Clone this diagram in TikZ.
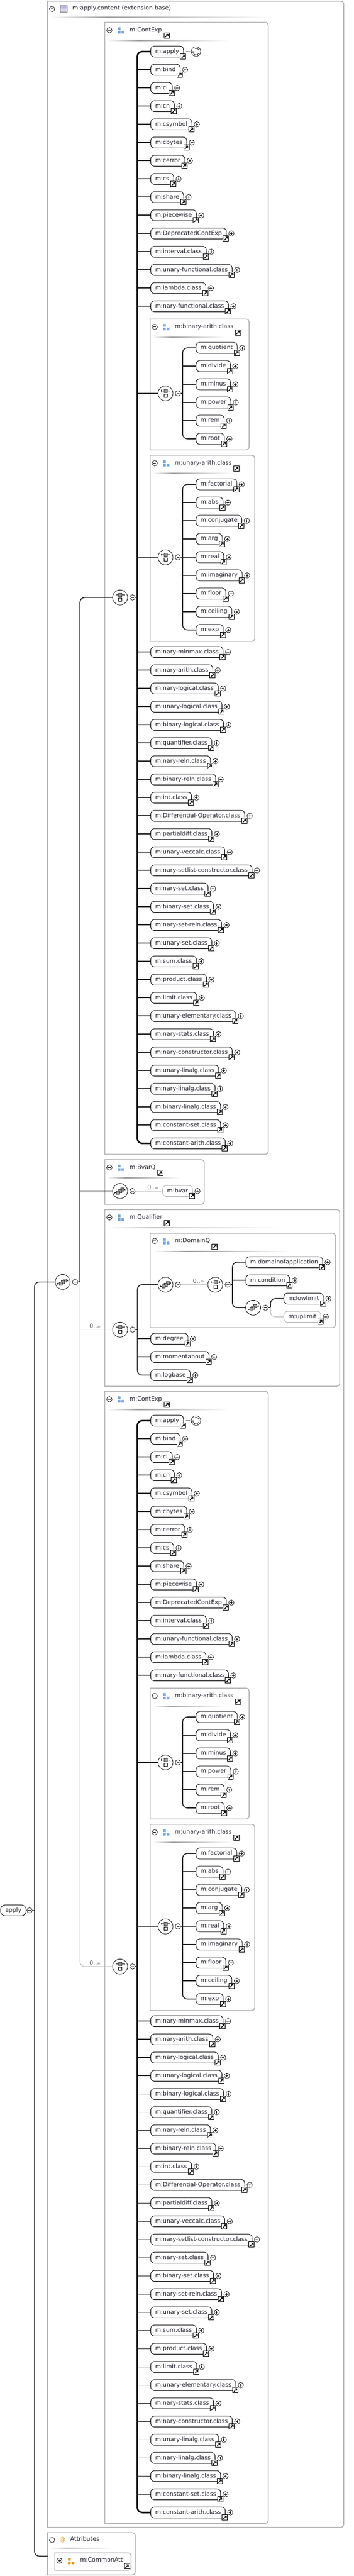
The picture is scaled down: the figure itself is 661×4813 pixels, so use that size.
\documentclass[tikz,border=0pt]{standalone}
\usepackage{fontspec}
\setmainfont{DejaVu Sans}[Ligatures=NoCommon]

\definecolor{boxgray}{HTML}{B0B0B0}
\definecolor{iconblue}{HTML}{7AA9DC}
\definecolor{iconorange}{HTML}{E8961E}
\definecolor{iconpurple}{HTML}{B7A4D8}
\definecolor{inkdark}{HTML}{26232E}

\pgfdeclarehorizontalshading{titlefade}{100bp}{color(0bp)=(white); color(25bp)=(white); color(38bp)=(black!38); color(75bp)=(white); color(100bp)=(white)}

\tikzset{
    label font/.style={font=\fontsize{11}{13}\selectfont, text=inkdark},
    elem/.style={draw=black, fill=white, line width=.9pt, rounded corners=7pt, anchor=west, label font,
        minimum height=20.5pt, inner xsep=8.3pt, inner ysep=0pt, text height=8pt, text depth=2.5pt},
    optelem/.style={elem, draw=boxgray},
    rootnode/.style={elem, rounded corners=9pt, inner xsep=8.8pt},
    linkbox/.style={draw=black, fill=white, line width=1pt, minimum size=10pt, inner sep=0pt,
        path picture={
            \fill[black] (path picture bounding box.center) ++(3.4pt,3.4pt) -- ++(-4.6pt,0pt) -- ++(4.6pt,-4.6pt) -- cycle;
            \draw[black, line width=1.4pt] (path picture bounding box.center) ++(-3pt,-3pt) -- ++(4pt,4pt);
        }},
    btn/.style={circle, draw=black, fill=white, line width=.7pt, minimum size=10pt, inner sep=0pt},
    minusbtn/.style={btn,
        path picture={\draw[line width=.8pt] (path picture bounding box.center) ++(-2.5pt,0pt) -- ++(5pt,0pt);}},
    plusbtn/.style={btn,
        path picture={\draw[line width=.8pt] (path picture bounding box.center) ++(-2.5pt,0pt) -- ++(5pt,0pt)
            (path picture bounding box.center) ++(0pt,-2.5pt) -- ++(0pt,5pt);}},
    recur/.style={btn, minimum size=18pt,
        path picture={\draw[line width=.7pt] (path picture bounding box.center) ++(110:6pt) arc[start angle=110, end angle=-190, radius=6pt];
            \fill (path picture bounding box.center) ++(-2.6pt,2pt) circle (1.4pt);}},
    recdots/.style={line width=1.4pt, dash pattern=on 1.4pt off 1.6pt},
    compo/.style={circle, draw=black, fill=white, line width=.8pt, minimum size=28pt, inner sep=0pt},
    boxline/.style={draw=boxgray, line width=1.5pt},
    wire/.style={draw=black!85, line width=1.7pt},
    optwire/.style={draw=boxgray, line width=1pt},
    rail/.style={wire, rounded corners=9pt},
    heavyrail/.style={rail, draw=black, line width=2.8pt},
    thinrail/.style={rail, line width=1.5pt},
    optrail/.style={optwire, rounded corners=9pt},
    title/.style={anchor=west, inner sep=0pt, label font, text height=8pt, text depth=2.5pt},
    mult/.style={inner sep=0pt, label font, text=black!65},
    titlebar/.style={shading=titlefade, draw=none},
    pics/threesq/.style={code={
        \fill[#1] (0,0) rectangle (5,5) (0,6.7) rectangle (5,11.7) (6.7,6.7) rectangle (11.7,11.7);
    }},
    pics/choicesym/.style={code={
        \draw[black, line width=.9pt] (-8,-5) -- (8,-5) (-8,-6.6) -- (-8,-3.4) (8,-6.6) -- (8,-3.4);
        \filldraw[fill=black!40, draw=black!70, line width=.5pt] (-3,-8) rectangle (3,-2);
        \draw[black, fill=white, line width=.8pt] (-3,1) rectangle (3,7);
    }},
    pics/seqsym/.style={code={
        \draw[black, line width=.9pt] (-9.5,3.2) -- (-6,3.2) (6,-3.2) -- (9.5,-3.2) (-9.5,1.8) -- (-9.5,4.6) (9.5,-4.6) -- (9.5,-1.8);
        \filldraw[fill=black!40, draw=black!75, line width=.6pt] (.8,-6) rectangle (6.8,0);
        \filldraw[fill=black!40, draw=black!75, line width=.6pt] (-3,-3) rectangle (3,3);
        \filldraw[fill=black!40, draw=black!75, line width=.6pt] (-6.8,0) rectangle (-.8,6);
    }},
}

\newcommand{\elemcore}[5][elem]{
    \node[#1, xshift=24.5pt] (#2) at (#3 |- 0,#4) {#5};
    \node[linkbox] (#2-link) at ([xshift=-1.2pt, yshift=-9.3pt]#2.east) {};
}
\newcommand{\elembare}[5][elem]{
    \elemcore[#1]{#2}{#3}{#4}{#5}
    \node[plusbtn] (#2-plus) at ([xshift=8.8pt]#2.east) {};
}
\newcommand{\elem}[4]{
    \elembare{#1}{#2}{#3}{#4}
    \draw[wire] (#2 |- #1.west) -- (#1.west);
}
\newcommand{\optelem}[4]{
    \elembare[optelem]{#1}{#2}{#3}{#4}
}
\newcommand{\compo}[3]{
    \node[compo] (#2) at (#3) {};
    \pic at (#2.center) {#1};
    \node[minusbtn] (#2-minus) at ([xshift=23.2pt]#2.center) {};
}
\newcommand{\groupframe}[5]{
    \draw[boxline] (#2,#3) -- ({#4-5},#3) arc[start angle=90, end angle=0, radius=5pt]
        -- (#4,{#5-5}) arc[start angle=0, end angle=-90, radius=5pt] -- (#2,#5) -- cycle;
    \coordinate (#1) at (#2,#3);
}
\newcommand{\groupbox}[7]{
    \groupframe{#1}{#2}{#3}{#4}{#5}
    \node[minusbtn] (#1-minus) at ([shift={(8.6pt,-14.7pt)}]#1) {};
    \pic at ([shift={(24.3pt,-9.3pt)}]#1) {threesq=iconblue};
    \node[title] (#1-title) at ([shift={(46pt,-14.7pt)}]#1) {#7};
    \node[linkbox] (#1-link) at ([xshift=8.5pt, yshift=-10.4pt]#1-title.east) {};
    \shade[titlebar] ([shift={(4.5pt,-33pt)}]#1) rectangle ++(#6pt,-1.6pt);
}

\begin{document}
\begin{tikzpicture}[x=1pt, y=-1pt]
    \useasboundingbox (0,0) rectangle (661,4813);

    \groupframe{content}{88.8}{2}{641.8}{4722}
    \node[minusbtn] (content-minus) at (97.2,16.7) {};
    \draw[draw=black!60, top color=iconpurple, bottom color=iconpurple!15, line width=.7pt] (112.4,10.3) rectangle (125,22.7);
    \node[title] (content-title) at (135,16) {m:apply.content (extension base)};
    \shade[titlebar] (92.5,31.5) rectangle ++(413pt,-1.6pt);

    \groupbox{contexp}{195.7}{41.7}{500.8}{2156.7}{227}{m:ContExp}
    \groupbox{binarith}{280.3}{596}{465}{840.7}{137}{m:binary-arith.class}
    \groupbox{unarith}{280.3}{850.7}{475.6}{1198.3}{149}{m:unary-arith.class}
    \groupbox{bvarq}{195.7}{2166.7}{381.3}{2250}{137}{m:BvarQ}
    \groupbox{qualifier}{195.7}{2260}{634.3}{2590}{324}{m:Qualifier}
    \groupbox{domainq}{280.3}{2304}{626.3}{2480.7}{259}{m:DomainQ}
    \groupbox{contexp'}{195.7}{2599.7}{500.8}{4714.7}{227}{m:ContExp}
    \groupbox{binarith'}{280.3}{3154}{465}{3398.7}{137}{m:binary-arith.class}
    \groupbox{unarith'}{280.3}{3408.7}{475.6}{3756.3}{149}{m:unary-arith.class}

    \groupframe{attributes}{88.8}{4732}{252.5}{4811}
    \node[minusbtn] (attributes-minus) at (97.2,4745.7) {};
    \node[label font, text=iconorange, inner sep=0pt] (attributes-icon) at (116.6,4745.7) {@};
    \node[title] (attributes-title) at (131,4745) {Attributes};
    \shade[titlebar] (92.5,4760) rectangle ++(123pt,-1.6pt);

    \groupframe{commonatt}{102.3}{4769.7}{244.5}{4802.3}
    \node[plusbtn] (commonatt-plus) at (111,4784.3) {};
    \pic at (126.9,4779.3) {threesq=iconorange};
    \node[title] (commonatt-title) at (149.4,4784) {m:CommonAtt};
    \node[linkbox] (commonatt-link) at (237,4794.7) {};

    \coordinate (mainrail) at (64.3,3569.3);
    \coordinate (attrjoin) at (88.8,4775.7);
    \coordinate (seqrail) at (149.3,2395.3);
    \coordinate (cerail) at (256.5,1116.3);
    \coordinate (binrail) at (341,735);
    \coordinate (unrail) at (341,1041.3);
    \coordinate (bvarrail) at (278.7,2225.3);
    \coordinate (qualrail) at (256.5,2484.3);
    \coordinate (domrail) at (434,2400.3);
    \coordinate (lowrail) at (505,2443.3);
    \coordinate (cerail') at (256.5,3674.3);
    \coordinate (binrail') at (341,3293);
    \coordinate (unrail') at (341,3599.3);

    \node[rootnode] (root) at (.5,3569.3) {apply};
    \node[minusbtn] (root-minus) at (55.3,3569.3) {};
    \draw[wire, line width=1.5pt] (root-minus) -- (mainrail);

    \compo{seqsym}{mainseq}{117,2395.3}
    \compo{choicesym}{cechoice}{224.2,1116.3}
    \compo{seqsym}{bvarseq}{224.2,2225.3}
    \compo{choicesym}{qualchoice}{224.2,2484.3}
    \compo{choicesym}{cechoice'}{224.2,3674.3}
    \draw[wire] (mainseq-minus) -- (seqrail);

    \elemcore{apply}{cerail}{96.3}{m:apply}
    \node[recur] (applyrec) at ([xshift=22.8pt]apply.east) {};
    \draw[recdots] ([xshift=4pt]apply.east) -- (applyrec.west);
    \elem{bind}{cerail}{130.3}{m:bind}
    \elem{ci}{cerail}{164.3}{m:ci}
    \elem{cn}{cerail}{198.3}{m:cn}
    \elem{csymbol}{cerail}{232.3}{m:csymbol}
    \elem{cbytes}{cerail}{266.3}{m:cbytes}
    \elem{cerror}{cerail}{300.3}{m:cerror}
    \elem{cs}{cerail}{334.3}{m:cs}
    \elem{share}{cerail}{368.3}{m:share}
    \elem{piecewise}{cerail}{402.3}{m:piecewise}
    \elem{deprecated}{cerail}{436.3}{m:DeprecatedContExp}
    \elem{interval}{cerail}{470.3}{m:interval.class}
    \elem{unaryfunc}{cerail}{504.3}{m:unary-functional.class}
    \elem{lambda}{cerail}{538.3}{m:lambda.class}
    \elem{naryfunc}{cerail}{572.3}{m:nary-functional.class}

    \compo{choicesym}{binchoice}{309,735}
    \draw[wire] (cerail |- binchoice) -- (binchoice);
    \draw[wire] (binchoice-minus) -- (binrail);
    \elembare{quotient}{binrail}{650}{m:quotient}
    \elem{divide}{binrail}{684}{m:divide}
    \elem{minus}{binrail}{718}{m:minus}
    \elem{power}{binrail}{752}{m:power}
    \elem{rem}{binrail}{786}{m:rem}
    \elembare{rootel}{binrail}{820}{m:root}
    \draw[rail] (quotient.west) -| (binrail) |- (rootel.west);

    \compo{choicesym}{unchoice}{309,1041.3}
    \draw[wire] (cerail |- unchoice) -- (unchoice);
    \draw[wire] (unchoice-minus) -- (unrail);
    \elembare{factorial}{unrail}{905}{m:factorial}
    \elem{abs}{unrail}{939}{m:abs}
    \elem{conjugate}{unrail}{973}{m:conjugate}
    \elem{arg}{unrail}{1007}{m:arg}
    \elem{real}{unrail}{1041}{m:real}
    \elem{imaginary}{unrail}{1075}{m:imaginary}
    \elem{floor}{unrail}{1109}{m:floor}
    \elem{ceiling}{unrail}{1143}{m:ceiling}
    \elembare{exp}{unrail}{1177}{m:exp}
    \draw[rail] (factorial.west) -| (unrail) |- (exp.west);

    \elem{naryminmax}{cerail}{1218.3}{m:nary-minmax.class}
    \elem{naryarith}{cerail}{1252.3}{m:nary-arith.class}
    \elem{narylogical}{cerail}{1286.3}{m:nary-logical.class}
    \elem{unarylogical}{cerail}{1320.3}{m:unary-logical.class}
    \elem{binarylogical}{cerail}{1354.3}{m:binary-logical.class}
    \elem{quantifier}{cerail}{1388.3}{m:quantifier.class}
    \elem{naryreln}{cerail}{1422.3}{m:nary-reln.class}
    \elem{binaryreln}{cerail}{1456.3}{m:binary-reln.class}
    \elem{intcl}{cerail}{1490.3}{m:int.class}
    \elem{diffop}{cerail}{1524.3}{m:Differential-Operator.class}
    \elem{partialdiff}{cerail}{1558.3}{m:partialdiff.class}
    \elem{unaryveccalc}{cerail}{1592.3}{m:unary-veccalc.class}
    \elem{setlist}{cerail}{1626.3}{m:nary-setlist-constructor.class}
    \elem{naryset}{cerail}{1660.3}{m:nary-set.class}
    \elem{binaryset}{cerail}{1694.3}{m:binary-set.class}
    \elem{narysetreln}{cerail}{1728.3}{m:nary-set-reln.class}
    \elem{unaryset}{cerail}{1762.3}{m:unary-set.class}
    \elem{sumcl}{cerail}{1796.3}{m:sum.class}
    \elem{product}{cerail}{1830.3}{m:product.class}
    \elem{limit}{cerail}{1864.3}{m:limit.class}
    \elem{unaryelem}{cerail}{1898.3}{m:unary-elementary.class}
    \elem{narystats}{cerail}{1932.3}{m:nary-stats.class}
    \elem{naryconstr}{cerail}{1966.3}{m:nary-constructor.class}
    \elem{unarylinalg}{cerail}{2000.3}{m:unary-linalg.class}
    \elem{narylinalg}{cerail}{2034.3}{m:nary-linalg.class}
    \elem{binarylinalg}{cerail}{2068.3}{m:binary-linalg.class}
    \elem{constset}{cerail}{2102.3}{m:constant-set.class}
    \elembare{constarith}{cerail}{2136.3}{m:constant-arith.class}
    \draw[heavyrail] (apply.west) -| (cerail) |- (constarith.west);
    \draw[wire] (cechoice-minus) -- (cerail);

    \optelem{bvar}{bvarrail}{2225.3}{m:bvar}
    \draw[optwire] (bvarseq-minus) -- (bvar);
    \node[mult] (bvarmult) at (285.5,2218) {0..{\fontsize{8}{8}\selectfont ∞}};
    \draw[wire] (seqrail |- bvarseq) -- (bvarseq);

    \compo{seqsym}{domseq}{309,2400.3}
    \compo{choicesym}{domchoice}{402,2400.3}
    \draw[optwire] (domseq-minus) -- (domchoice);
    \node[mult] (dommult) at (370.5,2393) {0..{\fontsize{8}{8}\selectfont ∞}};
    \draw[wire] (domchoice-minus) -- (domrail);
    \elembare{domofapp}{domrail}{2358.3}{m:domainofapplication}
    \elem{condition}{domrail}{2392.3}{m:condition}
    \compo{seqsym}{lowseq}{472.6,2443.3}
    \draw[rail] (domofapp.west) -| (domrail) |- (lowseq);
    \draw[wire] (lowseq-minus) -- (lowrail);
    \elembare{lowlimit}{lowrail}{2426.3}{m:lowlimit}
    \optelem{uplimit}{lowrail}{2460.3}{m:uplimit}
    \draw[rail] (lowlimit.west) -| (lowrail);
    \draw[optrail] (lowrail) |- (uplimit.west);

    \elem{degree}{qualrail}{2501.3}{m:degree}
    \elem{momentabout}{qualrail}{2535.3}{m:momentabout}
    \elembare{logbase}{qualrail}{2569.3}{m:logbase}
    \draw[rail] (domseq.west) -| (qualrail) |- (logbase.west);
    \draw[wire] (qualchoice-minus) -- (qualrail);

    \elemcore{apply'}{cerail'}{2654.3}{m:apply}
    \node[recur] (applyrec') at ([xshift=22.8pt]apply'.east) {};
    \draw[recdots] ([xshift=4pt]apply'.east) -- (applyrec'.west);
    \elem{bind'}{cerail'}{2688.3}{m:bind}
    \elem{ci'}{cerail'}{2722.3}{m:ci}
    \elem{cn'}{cerail'}{2756.3}{m:cn}
    \elem{csymbol'}{cerail'}{2790.3}{m:csymbol}
    \elem{cbytes'}{cerail'}{2824.3}{m:cbytes}
    \elem{cerror'}{cerail'}{2858.3}{m:cerror}
    \elem{cs'}{cerail'}{2892.3}{m:cs}
    \elem{share'}{cerail'}{2926.3}{m:share}
    \elem{piecewise'}{cerail'}{2960.3}{m:piecewise}
    \elem{deprecated'}{cerail'}{2994.3}{m:DeprecatedContExp}
    \elem{interval'}{cerail'}{3028.3}{m:interval.class}
    \elem{unaryfunc'}{cerail'}{3062.3}{m:unary-functional.class}
    \elem{lambda'}{cerail'}{3096.3}{m:lambda.class}
    \elem{naryfunc'}{cerail'}{3130.3}{m:nary-functional.class}

    \compo{choicesym}{binchoice'}{309,3293}
    \draw[wire] (cerail' |- binchoice') -- (binchoice');
    \draw[wire] (binchoice'-minus) -- (binrail');
    \elembare{quotient'}{binrail'}{3208}{m:quotient}
    \elem{divide'}{binrail'}{3242}{m:divide}
    \elem{minus'}{binrail'}{3276}{m:minus}
    \elem{power'}{binrail'}{3310}{m:power}
    \elem{rem'}{binrail'}{3344}{m:rem}
    \elembare{rootel'}{binrail'}{3378}{m:root}
    \draw[rail] (quotient'.west) -| (binrail') |- (rootel'.west);

    \compo{choicesym}{unchoice'}{309,3599.3}
    \draw[wire] (cerail' |- unchoice') -- (unchoice');
    \draw[wire] (unchoice'-minus) -- (unrail');
    \elembare{factorial'}{unrail'}{3463}{m:factorial}
    \elem{abs'}{unrail'}{3497}{m:abs}
    \elem{conjugate'}{unrail'}{3531}{m:conjugate}
    \elem{arg'}{unrail'}{3565}{m:arg}
    \elem{real'}{unrail'}{3599}{m:real}
    \elem{imaginary'}{unrail'}{3633}{m:imaginary}
    \elem{floor'}{unrail'}{3667}{m:floor}
    \elem{ceiling'}{unrail'}{3701}{m:ceiling}
    \elembare{exp'}{unrail'}{3735}{m:exp}
    \draw[rail] (factorial'.west) -| (unrail') |- (exp'.west);

    \elem{naryminmax'}{cerail'}{3776.3}{m:nary-minmax.class}
    \elem{naryarith'}{cerail'}{3810.3}{m:nary-arith.class}
    \elem{narylogical'}{cerail'}{3844.3}{m:nary-logical.class}
    \elem{unarylogical'}{cerail'}{3878.3}{m:unary-logical.class}
    \elem{binarylogical'}{cerail'}{3912.3}{m:binary-logical.class}
    \elem{quantifier'}{cerail'}{3946.3}{m:quantifier.class}
    \elem{naryreln'}{cerail'}{3980.3}{m:nary-reln.class}
    \elem{binaryreln'}{cerail'}{4014.3}{m:binary-reln.class}
    \elem{intcl'}{cerail'}{4048.3}{m:int.class}
    \elem{diffop'}{cerail'}{4082.3}{m:Differential-Operator.class}
    \elem{partialdiff'}{cerail'}{4116.3}{m:partialdiff.class}
    \elem{unaryveccalc'}{cerail'}{4150.3}{m:unary-veccalc.class}
    \elem{setlist'}{cerail'}{4184.3}{m:nary-setlist-constructor.class}
    \elem{naryset'}{cerail'}{4218.3}{m:nary-set.class}
    \elem{binaryset'}{cerail'}{4252.3}{m:binary-set.class}
    \elem{narysetreln'}{cerail'}{4286.3}{m:nary-set-reln.class}
    \elem{unaryset'}{cerail'}{4320.3}{m:unary-set.class}
    \elem{sumcl'}{cerail'}{4354.3}{m:sum.class}
    \elem{product'}{cerail'}{4388.3}{m:product.class}
    \elem{limit'}{cerail'}{4422.3}{m:limit.class}
    \elem{unaryelem'}{cerail'}{4456.3}{m:unary-elementary.class}
    \elem{narystats'}{cerail'}{4490.3}{m:nary-stats.class}
    \elem{naryconstr'}{cerail'}{4524.3}{m:nary-constructor.class}
    \elem{unarylinalg'}{cerail'}{4558.3}{m:unary-linalg.class}
    \elem{narylinalg'}{cerail'}{4592.3}{m:nary-linalg.class}
    \elem{binarylinalg'}{cerail'}{4626.3}{m:binary-linalg.class}
    \elem{constset'}{cerail'}{4660.3}{m:constant-set.class}
    \elembare{constarith'}{cerail'}{4694.3}{m:constant-arith.class}
    \draw[heavyrail] (apply'.west) -| (cerail') |- (constarith'.west);
    \draw[wire] (cechoice'-minus) -- (cerail');

    \draw[rail] (cechoice.west) -| (seqrail);
    \draw[optrail] (seqrail) |- (cechoice'.west);
    \draw[optwire] (seqrail |- qualchoice) -- (qualchoice);
    \node[mult] (qualmult) at (177.5,2477.3) {0..{\fontsize{8}{8}\selectfont ∞}};
    \node[mult] (cemult') at (177.5,3667.3) {0..{\fontsize{8}{8}\selectfont ∞}};
    \draw[thinrail] (mainseq.west) -| (mainrail) |- (attrjoin);
\end{tikzpicture}
\end{document}
